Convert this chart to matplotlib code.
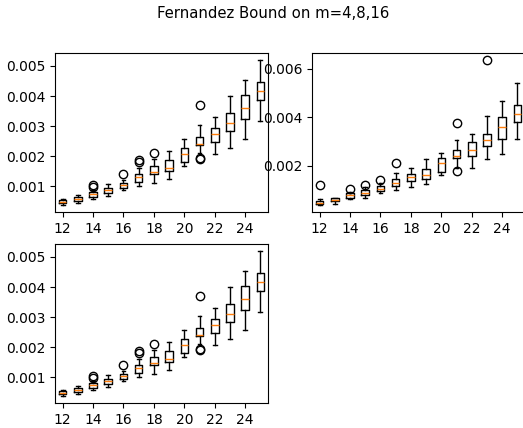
import matplotlib
matplotlib.use("Agg")
import matplotlib.pyplot as plt
from matplotlib.ticker import MultipleLocator

# dimensions m in [12..25]
dims = list(range(12, 26))
tick_vals = [12, 14, 16, 18, 20, 22, 24]

# m=4 / m=16 panels (they look the same)
a_lo = [0.000383, 0.000427, 0.00058, 0.00067, 0.00087, 0.00100, 0.00111,
        0.00124, 0.00166, 0.00210, 0.00207, 0.00226, 0.00256, 0.00317]
a_q1 = [0.000427, 0.000493, 0.00065, 0.00078, 0.00093, 0.00115, 0.00140,
        0.00151, 0.00182, 0.00237, 0.00248, 0.00283, 0.00323, 0.00387]
a_med = [0.000482, 0.00057, 0.000725, 0.00087, 0.00103, 0.00130, 0.00146,
         0.00161, 0.00208, 0.00241, 0.00272, 0.00310, 0.00359, 0.00418]
a_q3 = [0.000537, 0.000647, 0.00080, 0.00093, 0.00111, 0.00140, 0.00166,
        0.00186, 0.00228, 0.00265, 0.00292, 0.00342, 0.00402, 0.00446]
a_hi = [0.00058, 0.000713, 0.00087, 0.00109, 0.00122, 0.00160, 0.00190,
        0.00217, 0.00256, 0.00303, 0.00331, 0.00400, 0.00453, 0.00519]
a_fl = [[], [], [0.00104, 0.00098], [], [0.00142], [0.00186, 0.00179],
        [0.00210], [], [], [0.00369, 0.00193, 0.00190], [], [], [], []]

# m=8 panel
b_lo = [0.00038, 0.00040, 0.00060, 0.00068, 0.00088, 0.00099, 0.00110,
        0.00122, 0.00162, 0.00192, 0.00192, 0.00227, 0.00247, 0.00312]
b_q1 = [0.00041, 0.00052, 0.00068, 0.00077, 0.00093, 0.00115, 0.00137,
        0.00145, 0.00175, 0.00230, 0.00241, 0.00280, 0.00312, 0.00381]
b_med = [0.00047, 0.00059, 0.00077, 0.00088, 0.00104, 0.00129, 0.00151,
         0.00162, 0.00211, 0.00241, 0.00266, 0.00307, 0.00359, 0.00414]
b_q3 = [0.00055, 0.00064, 0.00085, 0.00099, 0.00115, 0.00145, 0.00164,
        0.00184, 0.00230, 0.00263, 0.00296, 0.00332, 0.00403, 0.00449]
b_hi = [0.00060, 0.00068, 0.00090, 0.00110, 0.00129, 0.00170, 0.00192,
        0.00227, 0.00252, 0.00307, 0.00329, 0.00405, 0.00466, 0.00540]
b_fl = [[0.00119], [], [0.00104], [0.00121], [0.00142], [0.00212], [], [],
        [], [0.00375, 0.00177], [], [0.00636], [], []]


def make_stats(lo, q1, med, q3, hi, fl):
    out = []
    for i in range(len(med)):
        out.append(dict(whislo=lo[i], q1=q1[i], med=med[i], q3=q3[i],
                        whishi=hi[i], fliers=fl[i]))
    return out


def draw(ax, stats, ystep):
    ax.bxp(stats, positions=range(1, len(dims) + 1), widths=0.5,
           showfliers=True,
           flierprops=dict(marker="o", markerfacecolor="none",
                           markeredgecolor="black", markersize=6),
           medianprops=dict(color="#ff7f0e"))
    ax.set_xlim(0.5, len(dims) + 0.5)
    ax.set_xticks([dims.index(t) + 1 for t in tick_vals])
    ax.set_xticklabels([str(t) for t in tick_vals])
    ax.autoscale(axis="y")
    ax.yaxis.set_major_locator(MultipleLocator(ystep))


W, H = 523, 428
fig = plt.figure(figsize=(W / 100, H / 100), dpi=100)

# axes boxes in pixels (left, top, width, height)
ax_w, ax_h = 213, 159
ax1 = fig.add_axes([55 / W, 1 - (53 + ax_h) / H, ax_w / W, ax_h / H])
ax3 = fig.add_axes([55 / W, 1 - (244 + ax_h) / H, ax_w / W, ax_h / H])
ax2 = fig.add_axes([312 / W, 1 - (53 + ax_h) / H, ax_w / W, ax_h / H])

draw(ax1, make_stats(a_lo, a_q1, a_med, a_q3, a_hi, a_fl), 0.001)
draw(ax2, make_stats(b_lo, b_q1, b_med, b_q3, b_hi, b_fl), 0.002)
draw(ax3, make_stats(a_lo, a_q1, a_med, a_q3, a_hi, a_fl), 0.001)

fig.suptitle("Fernandez Bound on m=4,8,16", x=0.522, y=0.985, fontsize=10.7)

fig.savefig("out.png", dpi=100)
